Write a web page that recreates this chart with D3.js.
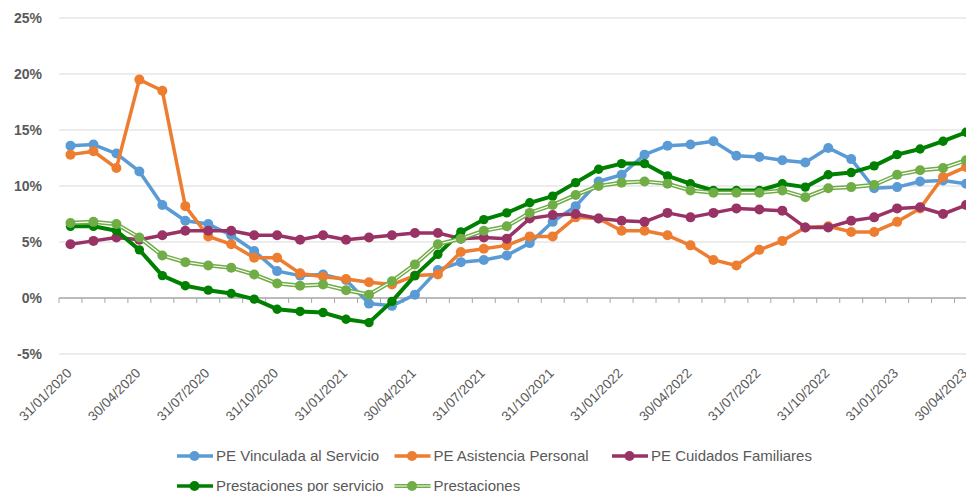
<!DOCTYPE html>
<html>
<head>
<meta charset="utf-8">
<script src="https://cdn.jsdelivr.net/npm/d3@7/dist/d3.min.js"></script>
<style>
  body { margin: 0; background: #fff; }
  svg { display: block; font-family: "Liberation Sans", Arial, sans-serif; }
</style>
</head>
<body>
<div class="viz1"></div>
<script>
// fechas (fin de mes)
var dates = ["31/01/2020", "29/02/2020", "31/03/2020", "30/04/2020", "31/05/2020", "30/06/2020",
    "31/07/2020", "31/08/2020", "30/09/2020", "31/10/2020", "30/11/2020", "31/12/2020",
    "31/01/2021", "28/02/2021", "31/03/2021", "30/04/2021", "31/05/2021", "30/06/2021",
    "31/07/2021", "31/08/2021", "30/09/2021", "31/10/2021", "30/11/2021", "31/12/2021",
    "31/01/2022", "28/02/2022", "31/03/2022", "30/04/2022", "31/05/2022", "30/06/2022",
    "31/07/2022", "31/08/2022", "30/09/2022", "31/10/2022", "30/11/2022", "31/12/2022",
    "31/01/2023", "28/02/2023", "31/03/2023", "30/04/2023"];

var vinculada = [13.6, 13.7, 12.9, 11.3, 8.3, 6.9, 6.6, 5.6, 4.2, 2.4, 2.0, 2.1,
    1.6, -0.5, -0.7, 0.3, 2.5, 3.2, 3.4, 3.8, 4.9, 6.8, 8.2, 10.4,
    11.0, 12.8, 13.6, 13.7, 14.0, 12.7, 12.6, 12.3, 12.1, 13.4, 12.4, 9.8,
    9.9, 10.4, 10.5, 10.2];

var asistencia = [12.8, 13.1, 11.6, 19.5, 18.5, 8.2, 5.5, 4.8, 3.6, 3.6, 2.2, 1.9,
    1.7, 1.4, 1.2, 2.0, 2.1, 4.1, 4.4, 4.7, 5.5, 5.5, 7.2, 7.1,
    6.0, 6.0, 5.6, 4.7, 3.4, 2.9, 4.3, 5.1, 6.3, 6.4, 5.9, 5.9,
    6.8, 8.0, 10.8, 11.7];

var cuidados = [4.8, 5.1, 5.4, 5.2, 5.6, 6.0, 6.0, 6.0, 5.6, 5.6, 5.2, 5.6,
    5.2, 5.4, 5.6, 5.8, 5.8, 5.3, 5.4, 5.3, 7.1, 7.4, 7.5, 7.1,
    6.9, 6.8, 7.6, 7.2, 7.6, 8.0, 7.9, 7.8, 6.3, 6.3, 6.9, 7.2,
    8.0, 8.1, 7.5, 8.3];

var porServicio = [6.4, 6.4, 6.0, 4.3, 2.0, 1.1, 0.7, 0.4, -0.1, -1.0, -1.2, -1.3,
    -1.9, -2.2, -0.3, 2.0, 3.9, 5.9, 7.0, 7.6, 8.5, 9.1, 10.3, 11.5,
    12.0, 12.0, 10.9, 10.2, 9.6, 9.6, 9.6, 10.2, 9.9, 11.0, 11.2, 11.8,
    12.8, 13.3, 14.0, 14.8];

var prestaciones = [6.7, 6.8, 6.6, 5.4, 3.8, 3.2, 2.9, 2.7, 2.1, 1.3, 1.1, 1.2,
    0.7, 0.3, 1.5, 3.0, 4.8, 5.3, 6.0, 6.4, 7.6, 8.3, 9.2, 10.0,
    10.3, 10.4, 10.2, 9.6, 9.4, 9.4, 9.4, 9.6, 9.0, 9.8, 9.9, 10.1,
    11.0, 11.4, 11.6, 12.3];

var seriesNames = ["PE Vinculada al Servicio", "PE Asistencia Personal", "PE Cuidados Familiares",
    "Prestaciones por servicio", "Prestaciones"];
var seriesColors = ["#5B9BD5", "#ED7D31", "#993366", "#008000", "#70AD47"];
var yTicks = [-5, 0, 5, 10, 15, 20, 25];

var w = 966;
var h = 492;
var left = 59;
var right = 977.5;
var series = [vinculada, asistencia, cuidados, porServicio, prestaciones];

var xScale = d3.scaleBand()
    .domain(d3.range(dates.length))
    .range([left, right]);

var yScale = d3.scaleLinear()
    .domain([-5, 25])
    .range([354, 18]);

var cx = function(i) { return xScale(i) + xScale.bandwidth() / 2; };

var svg = d3.select(".viz1")
    .append("svg")
    .attr("width", w)
    .attr("height", h);

// gridlines
svg.append("g")
    .selectAll("line")
    .data(yTicks.filter(function(d) { return d !== 0; }))
    .enter()
    .append("line")
    .attr("x1", left)
    .attr("x2", right)
    .attr("y1", function(d) { return yScale(d); })
    .attr("y2", function(d) { return yScale(d); })
    .attr("stroke", "#d9d9d9")
    .attr("stroke-width", 1);

// y axis labels
var yAxis = d3.axisLeft(yScale)
    .tickValues(yTicks)
    .tickSize(0)
    .tickPadding(17)
    .tickFormat(function(d) { return d + "%"; });

svg.append("g")
    .attr("class", "y axis")
    .attr("transform", "translate(" + left + ",0)")
    .call(yAxis)
    .call(function(g) { g.select(".domain").remove(); })
    .selectAll("text")
    .attr("fill", "#595959")
    .attr("font-size", "14px")
    .attr("font-weight", "bold");

// zero line with category ticks
var zero = svg.append("g").attr("class", "x axis");
zero.append("line")
    .attr("x1", left)
    .attr("x2", right)
    .attr("y1", yScale(0))
    .attr("y2", yScale(0))
    .attr("stroke", "#a6a6a6")
    .attr("stroke-width", 1.3);

zero.selectAll(".tk")
    .data(d3.range(dates.length + 1))
    .enter()
    .append("line")
    .attr("class", "tk")
    .attr("x1", function(i) { return left + i * xScale.step(); })
    .attr("x2", function(i) { return left + i * xScale.step(); })
    .attr("y1", yScale(0))
    .attr("y2", yScale(0) + 5)
    .attr("stroke", "#a6a6a6")
    .attr("stroke-width", 1);

// x labels (every 3 months)
var xAxis = d3.axisBottom(xScale)
    .tickValues(d3.range(0, dates.length, 3))
    .tickSize(0)
    .tickFormat(function(i) { return dates[i]; });

svg.append("g")
    .attr("class", "x labels")
    .attr("transform", "translate(0,374)")
    .call(xAxis)
    .call(function(g) { g.select(".domain").remove(); })
    .selectAll("text")
    .attr("x", 0)
    .attr("y", 0)
    .attr("dy", 0)
    .attr("transform", "translate(2,0) rotate(-45)")
    .style("text-anchor", "end")
    .attr("fill", "#595959")
    .attr("font-size", "13.5px");

var line = d3.line()
    .x(function(d, i) { return cx(i); })
    .y(function(d) { return yScale(d); });

// series
series.forEach(function(data, k) {
    var g = svg.append("g");
    var col = seriesColors[k];
    g.append("path")
        .datum(data)
        .attr("d", line)
        .attr("fill", "none")
        .attr("stroke", col)
        .attr("stroke-width", k === 3 ? 4 : (k === 4 ? 4.2 : 3.5))
        .attr("stroke-linejoin", "round");
    if (k === 4) {
        g.append("path")
            .datum(data)
            .attr("d", line)
            .attr("fill", "none")
            .attr("stroke", "#fff")
            .attr("stroke-width", 1.2)
            .attr("stroke-linejoin", "round");
    }
    g.selectAll("circle")
        .data(data)
        .enter()
        .append("circle")
        .attr("cx", function(d, i) { return cx(i); })
        .attr("cy", function(d) { return yScale(d); })
        .attr("r", k === 3 ? 4.7 : 5)
        .attr("fill", col);
});

// legend
var legend = svg.append("g").attr("class", "legend");
seriesNames.forEach(function(name, k) {
    var lx = 177 + (k % 3) * 217.5;
    var ly = k < 3 ? 456 : 486;
    var item = legend.append("g").attr("transform", "translate(" + lx + "," + ly + ")");
    item.append("line")
        .attr("x1", 0).attr("x2", 36)
        .attr("y1", 0).attr("y2", 0)
        .attr("stroke", seriesColors[k])
        .attr("stroke-width", k === 4 ? 4.2 : 3.5);
    if (k === 4) {
        item.append("line")
            .attr("x1", 0).attr("x2", 36)
            .attr("y1", 0).attr("y2", 0)
            .attr("stroke", "#fff")
            .attr("stroke-width", 1.2);
    }
    item.append("circle")
        .attr("cx", 17.5)
        .attr("cy", 0)
        .attr("r", 5)
        .attr("fill", seriesColors[k]);
    item.append("text")
        .attr("x", 39)
        .attr("y", 0)
        .attr("dy", "0.35em")
        .attr("fill", "#595959")
        .attr("font-size", "15px")
        .text(name);
});
</script>
</body>
</html>
